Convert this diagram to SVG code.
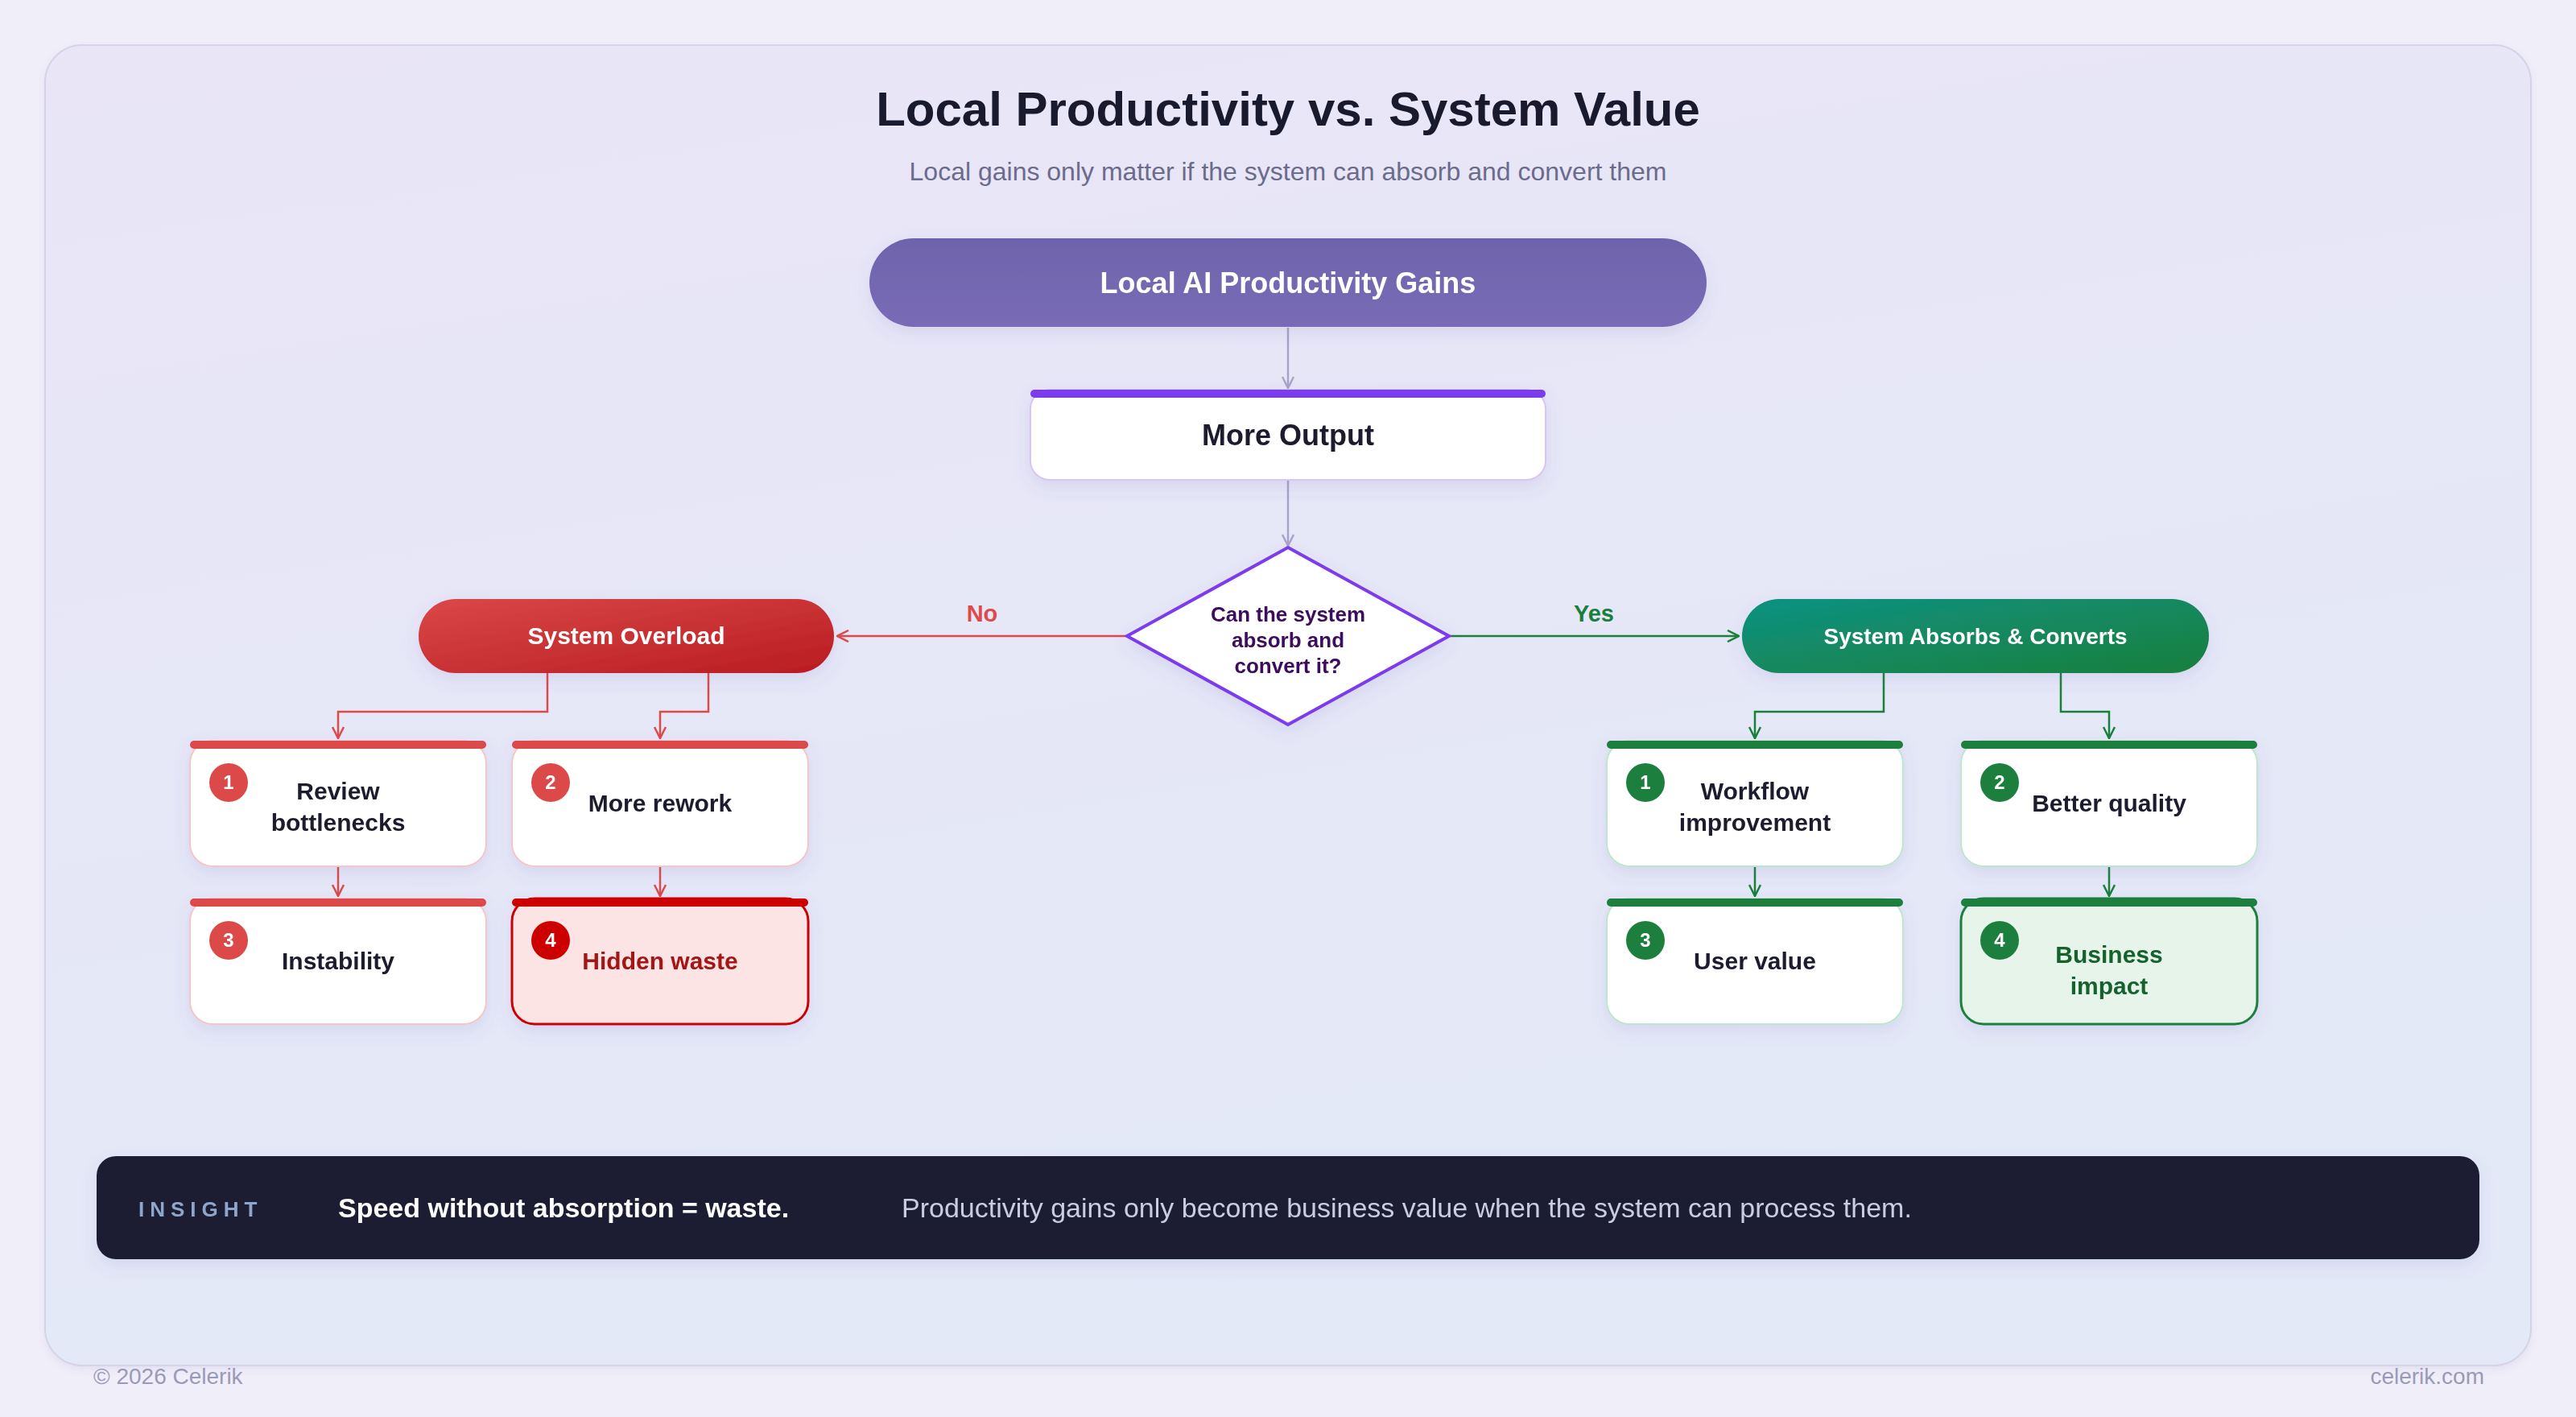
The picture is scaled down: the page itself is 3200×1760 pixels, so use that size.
<svg xmlns="http://www.w3.org/2000/svg" width="3200" height="1760" viewBox="0 0 3200 1760">
  <defs>
    <linearGradient id="cardGrad" x1="0" y1="0" x2="0.3" y2="1">
      <stop offset="0" stop-color="#e9e5f7"/>
      <stop offset="1" stop-color="#e3e9f7"/>
    </linearGradient>
    <linearGradient id="purpleGrad" x1="0" y1="0" x2="0" y2="1">
      <stop offset="0" stop-color="#6d64ac"/>
      <stop offset="1" stop-color="#7a6bb6"/>
    </linearGradient>
    <linearGradient id="redGrad" x1="0" y1="0" x2="1" y2="1">
      <stop offset="0" stop-color="#da4848"/>
      <stop offset="1" stop-color="#b91c21"/>
    </linearGradient>
    <linearGradient id="greenGrad" x1="0" y1="0" x2="1" y2="1">
      <stop offset="0" stop-color="#0e9282"/>
      <stop offset="1" stop-color="#1a7f3c"/>
    </linearGradient>
    <filter id="shadow" x="-20%" y="-30%" width="140%" height="170%">
      <feDropShadow dx="0" dy="8" stdDeviation="10" flood-color="#6b5bb5" flood-opacity="0.12"/>
    </filter>
    <filter id="cardShadow" x="-5%" y="-5%" width="110%" height="110%">
      <feDropShadow dx="0" dy="4" stdDeviation="4" flood-color="#6b5bb5" flood-opacity="0.10"/>
    </filter>
    <marker id="arrGrey" markerUnits="userSpaceOnUse" markerWidth="16" markerHeight="16" viewBox="0 0 16 16" refX="15" refY="8" orient="auto">
      <path d="M1,1 L15,8 L1,15" fill="none" stroke="#a9a3c9" stroke-width="2.5"/>
    </marker>
    <marker id="arrRed" markerUnits="userSpaceOnUse" markerWidth="16" markerHeight="16" viewBox="0 0 16 16" refX="15" refY="8" orient="auto">
      <path d="M1,1 L15,8 L1,15" fill="none" stroke="#dc4a4a" stroke-width="2.5"/>
    </marker>
    <marker id="arrGreen" markerUnits="userSpaceOnUse" markerWidth="16" markerHeight="16" viewBox="0 0 16 16" refX="15" refY="8" orient="auto">
      <path d="M1,1 L15,8 L1,15" fill="none" stroke="#1a7f3c" stroke-width="2.5"/>
    </marker>
  </defs>
  <style>
    text { font-family: "Liberation Sans", Arial, sans-serif; }
    .title { font-size: 60px; font-weight: bold; fill: #1a1a2e; text-anchor: middle; }
    .subtitle { font-size: 32px; fill: #6b6b8c; text-anchor: middle; }
    .pillText { font-weight: bold; fill: #ffffff; text-anchor: middle; }
    .boxText { font-size: 30px; font-weight: bold; fill: #1a1a2e; text-anchor: middle; }
    .badgeText { font-size: 24px; font-weight: bold; fill: #ffffff; text-anchor: middle; }
    .box { fill: #ffffff; stroke-width: 2; }
    .redBox { stroke: #f5c6c6; }
    .greenBox { stroke: #bfe5cb; }
    .conn { fill: none; stroke-width: 2.5; }
    .grey { stroke: #a9a3c9; }
    .red { stroke: #dc4a4a; }
    .green { stroke: #1a7f3c; }
  </style>

  <rect x="0" y="0" width="3200" height="1760" fill="#f0eef8"/>
  <rect x="56" y="56" width="3088" height="1640" rx="46" fill="url(#cardGrad)" stroke="#d6d2ea" stroke-width="2" filter="url(#cardShadow)"/>

  <text class="title" x="1600" y="156">Local Productivity vs. System Value</text>
  <text class="subtitle" x="1600" y="224">Local gains only matter if the system can absorb and convert them</text>

  <g id="connectors">
    <path class="conn grey" d="M1600,407 V482" marker-end="url(#arrGrey)"/>
    <path class="conn grey" d="M1600,597 V678" marker-end="url(#arrGrey)"/>
    <path class="conn red" d="M1400,790 H1040" marker-end="url(#arrRed)"/>
    <path class="conn green" d="M1800,790 H2160" marker-end="url(#arrGreen)"/>
    <path class="conn red" d="M680,836 V884 H420 V917" marker-end="url(#arrRed)"/>
    <path class="conn red" d="M880,836 V884 H820 V917" marker-end="url(#arrRed)"/>
    <path class="conn red" d="M420,1077 V1113" marker-end="url(#arrRed)"/>
    <path class="conn red" d="M820,1077 V1113" marker-end="url(#arrRed)"/>
    <path class="conn green" d="M2340,836 V884 H2180 V917" marker-end="url(#arrGreen)"/>
    <path class="conn green" d="M2560,836 V884 H2620 V917" marker-end="url(#arrGreen)"/>
    <path class="conn green" d="M2180,1077 V1113" marker-end="url(#arrGreen)"/>
    <path class="conn green" d="M2620,1077 V1113" marker-end="url(#arrGreen)"/>
    <text x="1220" y="772" font-size="29" font-weight="bold" fill="#dc4a4a" text-anchor="middle">No</text>
    <text x="1980" y="772" font-size="29" font-weight="bold" fill="#1a7f3c" text-anchor="middle">Yes</text>
  </g>

  <g id="node-gains" filter="url(#shadow)">
    <rect x="1080" y="296" width="1040" height="110" rx="55" fill="url(#purpleGrad)"/>
    <text class="pillText" x="1600" y="364" font-size="36">Local AI Productivity Gains</text>
  </g>

  <g id="node-output" filter="url(#shadow)">
    <rect x="1280" y="484" width="640" height="112" rx="24" fill="#ffffff" stroke="#d8c6f0" stroke-width="2"/>
    <rect x="1280" y="484" width="640" height="10" rx="5" fill="#7c3aed"/>
    <text x="1600" y="553" font-size="36" font-weight="bold" fill="#1a1a2e" text-anchor="middle">More Output</text>
  </g>

  <g id="node-decision" filter="url(#shadow)">
    <polygon points="1600,680 1800,790 1600,900 1400,790" fill="#ffffff" stroke="#7c3aed" stroke-width="4" stroke-linejoin="miter"/>
    <text x="1600" y="772" font-size="26" font-weight="bold" fill="#3b0a5c" text-anchor="middle">Can the system</text>
    <text x="1600" y="804" font-size="26" font-weight="bold" fill="#3b0a5c" text-anchor="middle">absorb and</text>
    <text x="1600" y="836" font-size="26" font-weight="bold" fill="#3b0a5c" text-anchor="middle">convert it?</text>
  </g>

  <g id="node-overload" filter="url(#shadow)">
    <rect x="520" y="744" width="516" height="92" rx="46" fill="url(#redGrad)"/>
    <text class="pillText" x="778" y="800" font-size="30">System Overload</text>
  </g>

  <g id="node-absorbs" filter="url(#shadow)">
    <rect x="2164" y="744" width="580" height="92" rx="46" fill="url(#greenGrad)"/>
    <text class="pillText" x="2454" y="800" font-size="28">System Absorbs &amp; Converts</text>
  </g>

  <g id="node-review" filter="url(#shadow)">
    <rect class="box redBox" x="236" y="920" width="368" height="156" rx="28"/>
    <rect x="236" y="920" width="368" height="10" rx="5" fill="#dc4a4a"/>
    <circle cx="284" cy="972" r="24" fill="#dc4a4a"/>
    <text class="badgeText" x="284" y="980">1</text>
    <text class="boxText" x="420" y="993">Review</text>
    <text class="boxText" x="420" y="1032">bottlenecks</text>
  </g>

  <g id="node-rework" filter="url(#shadow)">
    <rect class="box redBox" x="636" y="920" width="368" height="156" rx="28"/>
    <rect x="636" y="920" width="368" height="10" rx="5" fill="#dc4a4a"/>
    <circle cx="684" cy="972" r="24" fill="#dc4a4a"/>
    <text class="badgeText" x="684" y="980">2</text>
    <text class="boxText" x="820" y="1008">More rework</text>
  </g>

  <g id="node-instability" filter="url(#shadow)">
    <rect class="box redBox" x="236" y="1116" width="368" height="156" rx="28"/>
    <rect x="236" y="1116" width="368" height="10" rx="5" fill="#dc4a4a"/>
    <circle cx="284" cy="1168" r="24" fill="#dc4a4a"/>
    <text class="badgeText" x="284" y="1176">3</text>
    <text class="boxText" x="420" y="1204">Instability</text>
  </g>

  <g id="node-waste" filter="url(#shadow)">
    <rect x="636" y="1116" width="368" height="156" rx="28" fill="#fde4e4" stroke="#cc0000" stroke-width="3"/>
    <rect x="636" y="1116" width="368" height="10" rx="5" fill="#cc0000"/>
    <circle cx="684" cy="1168" r="24" fill="#cc0000"/>
    <text class="badgeText" x="684" y="1176">4</text>
    <text class="boxText" x="820" y="1204" style="fill:#a31515">Hidden waste</text>
  </g>

  <g id="node-workflow" filter="url(#shadow)">
    <rect class="box greenBox" x="1996" y="920" width="368" height="156" rx="28"/>
    <rect x="1996" y="920" width="368" height="10" rx="5" fill="#1a7f3c"/>
    <circle cx="2044" cy="972" r="24" fill="#1a7f3c"/>
    <text class="badgeText" x="2044" y="980">1</text>
    <text class="boxText" x="2180" y="993">Workflow</text>
    <text class="boxText" x="2180" y="1032">improvement</text>
  </g>

  <g id="node-quality" filter="url(#shadow)">
    <rect class="box greenBox" x="2436" y="920" width="368" height="156" rx="28"/>
    <rect x="2436" y="920" width="368" height="10" rx="5" fill="#1a7f3c"/>
    <circle cx="2484" cy="972" r="24" fill="#1a7f3c"/>
    <text class="badgeText" x="2484" y="980">2</text>
    <text class="boxText" x="2620" y="1008">Better quality</text>
  </g>

  <g id="node-uservalue" filter="url(#shadow)">
    <rect class="box greenBox" x="1996" y="1116" width="368" height="156" rx="28"/>
    <rect x="1996" y="1116" width="368" height="10" rx="5" fill="#1a7f3c"/>
    <circle cx="2044" cy="1168" r="24" fill="#1a7f3c"/>
    <text class="badgeText" x="2044" y="1176">3</text>
    <text class="boxText" x="2180" y="1204">User value</text>
  </g>

  <g id="node-impact" filter="url(#shadow)">
    <rect x="2436" y="1116" width="368" height="156" rx="28" fill="#e6f4ea" stroke="#1a7f3c" stroke-width="3"/>
    <rect x="2436" y="1116" width="368" height="10" rx="5" fill="#1a7f3c"/>
    <circle cx="2484" cy="1168" r="24" fill="#1a7f3c"/>
    <text class="badgeText" x="2484" y="1176">4</text>
    <text class="boxText" x="2620" y="1196" style="fill:#14622e">Business</text>
    <text class="boxText" x="2620" y="1235" style="fill:#14622e">impact</text>
  </g>

  <g id="insight" filter="url(#shadow)">
    <rect x="120" y="1436" width="2960" height="128" rx="24" fill="#1e1e30"/>
    <text x="172" y="1511" font-size="26" font-weight="bold" letter-spacing="7" fill="#8fa6cc">INSIGHT</text>
    <text x="420" y="1512" font-size="34" font-weight="bold" fill="#ffffff">Speed without absorption = waste.</text>
    <text x="1120" y="1512" font-size="34" fill="#c9cde0">Productivity gains only become business value when the system can process them.</text>
  </g>

  <text x="116" y="1719" font-size="28" fill="#9a9ab8">© 2026 Celerik</text>
  <text x="3086" y="1719" font-size="28" fill="#9a9ab8" text-anchor="end">celerik.com</text>
</svg>
